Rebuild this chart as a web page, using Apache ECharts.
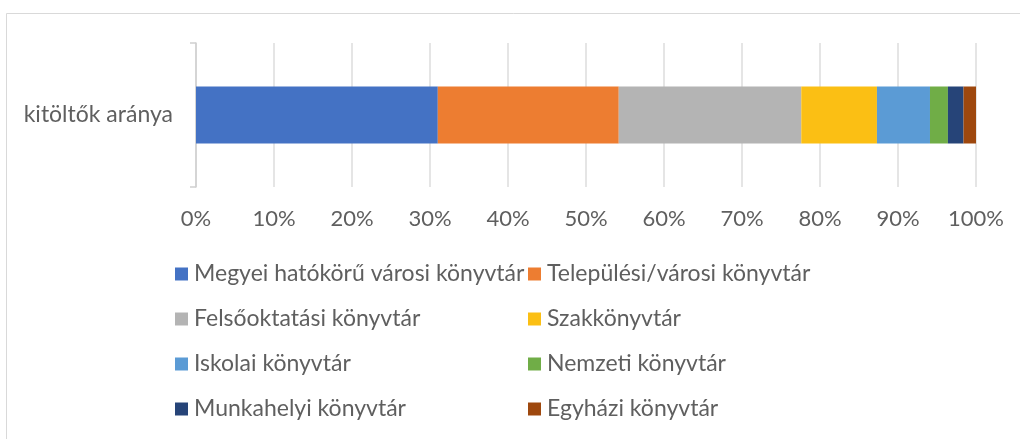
<!DOCTYPE html>
<html>
<head>
<meta charset="utf-8">
<script src="https://cdn.jsdelivr.net/npm/echarts@6/dist/echarts.min.js"></script>
<style>
  html, body { margin: 0; padding: 0; background: #ffffff; }
  #chart { width: 1020px; height: 439px; }
</style>
</head>
<body>
<div id="chart"></div>
<script>
// ---- data ----
const categories = ['kitöltők aránya'];
const seriesNames = [
  'Megyei hatókörű városi könyvtár',
  'Települési/városi könyvtár',
  'Felsőoktatási könyvtár',
  'Szakkönyvtár',
  'Iskolai könyvtár',
  'Nemzeti könyvtár',
  'Munkahelyi könyvtár',
  'Egyházi könyvtár'
];
const seriesValues = [31.0, 23.2, 23.4, 9.7, 6.8, 2.3, 2.0, 1.6];
const xTickLabels = ['0%', '10%', '20%', '30%', '40%', '50%', '60%', '70%', '80%', '90%', '100%'];
const legendColumn1 = ['Megyei hatókörű városi könyvtár', 'Felsőoktatási könyvtár', 'Iskolai könyvtár', 'Munkahelyi könyvtár'];
const legendColumn2 = ['Települési/városi könyvtár', 'Szakkönyvtár', 'Nemzeti könyvtár', 'Egyházi könyvtár'];

// ---- styles ----
const palette = ['#4472C4', '#ED7D31', '#B4B4B4', '#FBBF14', '#5B9BD5', '#70AD47', '#264478', '#9E480E'];
const FONT = 'Lato';
const TEXT = '#5f5f5f';

const chart = echarts.init(document.getElementById('chart'), null, { renderer: 'canvas' });

const legendCommon = {
  orient: 'vertical',
  top: 262,
  padding: 0,
  itemWidth: 13,
  itemHeight: 13,
  itemGap: 21,
  icon: 'rect',
  selectedMode: false,
  textStyle: { fontFamily: FONT, fontSize: 23, color: TEXT, lineHeight: 24, padding: [0, 0, 0, 1] }
};

chart.setOption({
  animation: false,
  backgroundColor: '#ffffff',
  color: palette,
  graphic: [{
    type: 'rect',
    shape: { x: 6.5, y: 13.5, width: 1200, height: 600 },
    style: { fill: 'none', stroke: '#d9d9d9', lineWidth: 1 },
    silent: true,
    z: -1
  }],
  legend: [
    Object.assign({}, legendCommon, { left: 175, data: legendColumn1 }),
    Object.assign({}, legendCommon, { left: 528, data: legendColumn2 })
  ],
  grid: { left: 196, right: 44, top: 43, bottom: 252, containLabel: false },
  xAxis: {
    type: 'value',
    min: 0,
    max: 100,
    interval: 10,
    axisLine: { show: false },
    axisTick: { show: false },
    splitLine: { show: true, lineStyle: { color: '#dcdcdc', width: 1.5 } },
    axisLabel: {
      margin: 21,
      fontFamily: FONT,
      fontSize: 22,
      color: TEXT,
      formatter: function (v) { return xTickLabels[Math.round(v / 10)]; }
    }
  },
  yAxis: {
    type: 'category',
    data: categories,
    axisLine: { show: true, lineStyle: { color: '#cfcfcf', width: 1.5 } },
    axisTick: { show: true, length: 6, lineStyle: { color: '#cfcfcf', width: 1.5 } },
    axisLabel: { margin: 23, fontFamily: FONT, fontSize: 23, color: TEXT }
  },
  series: seriesNames.map(function (name, i) {
    return {
      name: name,
      type: 'bar',
      stack: 'total',
      barWidth: 57,
      data: [seriesValues[i]]
    };
  })
});
</script>
</body>
</html>
